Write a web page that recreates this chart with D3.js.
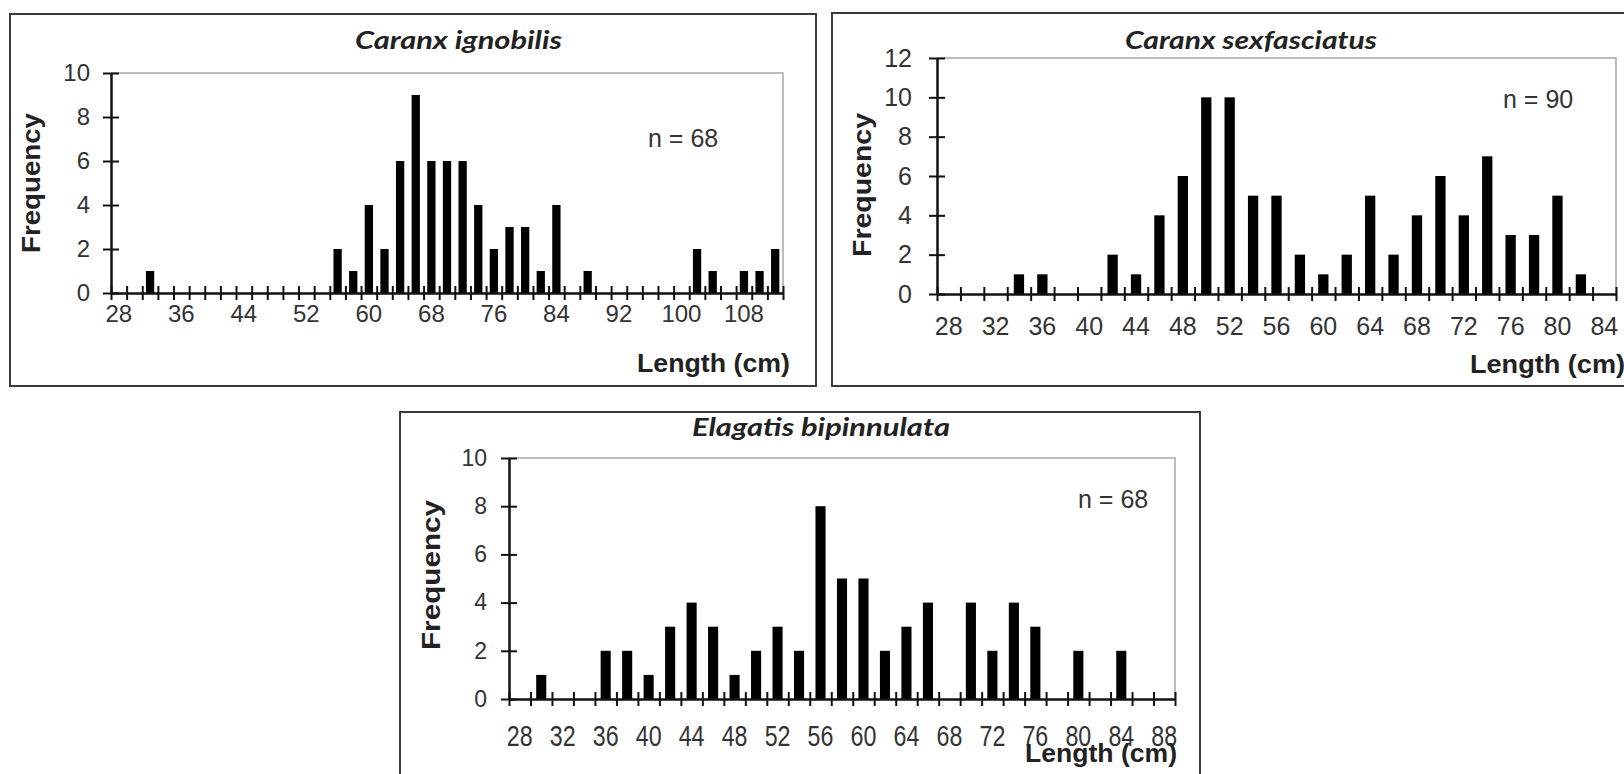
<!DOCTYPE html>
<html>
<head>
<meta charset="utf-8">
<script src="https://cdn.jsdelivr.net/npm/d3@7"></script>
<style>
  body { margin: 0; background: #fff; }
  svg { display: block; }
</style>
</head>
<body>
<div id="chart"></div>
<script>
// ---- data ----
// Caranx ignobilis
const ignobilisLengths = [28, 30, 32, 34, 36, 38, 40, 42, 44, 46, 48, 50, 52, 54, 56, 58, 60, 62, 64, 66, 68, 70,
  72, 74, 76, 78, 80, 82, 84, 86, 88, 90, 92, 94, 96, 98, 100, 102, 104, 106, 108, 110, 112];
const ignobilisCounts = [0, 0, 1, 0, 0, 0, 0, 0, 0, 0, 0, 0, 0, 0, 2, 1, 4, 2, 6, 9, 6, 6,
  6, 4, 2, 3, 3, 1, 4, 0, 1, 0, 0, 0, 0, 0, 0, 2, 1, 0, 1, 1, 2];
const ignobilisLabels = [28, 36, 44, 52, 60, 68, 76, 84, 92, 100, 108];
const ignobilisFreqTicks = [0, 2, 4, 6, 8, 10];

// Caranx sexfasciatus
const sexfasciatusLengths = [28, 30, 32, 34, 36, 38, 40, 42, 44, 46, 48, 50, 52, 54, 56, 58, 60, 62, 64, 66,
  68, 70, 72, 74, 76, 78, 80, 82, 84];
const sexfasciatusCounts = [0, 0, 0, 1, 1, 0, 0, 2, 1, 4, 6, 10, 10, 5, 5, 2, 1, 2, 5, 2,
  4, 6, 4, 7, 3, 3, 5, 1, 0];
const sexfasciatusLabels = [28, 32, 36, 40, 44, 48, 52, 56, 60, 64, 68, 72, 76, 80, 84];
const sexfasciatusFreqTicks = [0, 2, 4, 6, 8, 10, 12];

// Elagatis bipinnulata
const bipinnulataLengths = [28, 30, 32, 34, 36, 38, 40, 42, 44, 46, 48, 50, 52, 54, 56, 58, 60, 62, 64, 66,
  68, 70, 72, 74, 76, 78, 80, 82, 84, 86, 88];
const bipinnulataCounts = [0, 1, 0, 0, 2, 2, 1, 3, 4, 3, 1, 2, 3, 2, 8, 5, 5, 2, 3, 4,
  0, 4, 2, 4, 3, 0, 2, 0, 2, 0, 0];
const bipinnulataLabels = [28, 32, 36, 40, 44, 48, 52, 56, 60, 64, 68, 72, 76, 80, 84, 88];
const bipinnulataFreqTicks = [0, 2, 4, 6, 8, 10];

const sampleSizes = ["n = 68", "n = 90", "n = 68"];

// ---- layout ----
const svg = d3.select("#chart")
  .append("svg")
  .attr("width", 1624)
  .attr("height", 774)
  .attr("viewBox", "0 0 1624 774");

const panels = [
  {
    title: "Caranx ignobilis", lengths: ignobilisLengths, counts: ignobilisCounts,
    labels: ignobilisLabels, yTicks: ignobilisFreqTicks, n: sampleSizes[0],
    box: { x: 10, y: 14, w: 806, h: 372 },
    plot: { left: 111, top: 73, right: 783, bottom: 293 },
    pad: 0.47,
    titlePos: { x: 355, y: 49, size: 25, len: 207 },
    nPos: { x: 648, y: 147 },
    freqPos: { x: 40, y: 183, len: 140 },
    lenPos: { x: 637, y: 372, len: 153, size: 26 },
    xFont: { size: 24, pad: 12, squeeze: 1 },
    yFont: { size: 24, pad: 21 }
  },
  {
    title: "Caranx sexfasciatus", lengths: sexfasciatusLengths, counts: sexfasciatusCounts,
    labels: sexfasciatusLabels, yTicks: sexfasciatusFreqTicks, n: sampleSizes[1],
    box: { x: 832, y: 13, w: 820, h: 373 },
    plot: { left: 937, top: 58, right: 1616, bottom: 294 },
    pad: 0.56,
    titlePos: { x: 1125, y: 49, size: 25, len: 252 },
    nPos: { x: 1503, y: 108 },
    freqPos: { x: 871, y: 185, len: 144 },
    lenPos: { x: 1470, y: 373, len: 155, size: 26 },
    xFont: { size: 25, pad: 23, squeeze: 1 },
    yFont: { size: 25, pad: 25 }
  },
  {
    title: "Elagatis bipinnulata", lengths: bipinnulataLengths, counts: bipinnulataCounts,
    labels: bipinnulataLabels, yTicks: bipinnulataFreqTicks, n: sampleSizes[2],
    box: { x: 400, y: 412, w: 800, h: 420 },
    plot: { left: 509, top: 458, right: 1175, bottom: 699 },
    pad: 0.53,
    titlePos: { x: 692, y: 436, size: 24, len: 258 },
    nPos: { x: 1078, y: 508 },
    freqPos: { x: 440, y: 575, len: 150 },
    lenPos: { x: 1025, y: 762, len: 152, size: 25 },
    // these labels are set in a taller, condensed face
    xFont: { size: 29, pad: 26, squeeze: 0.8 },
    yFont: { size: 23, pad: 22 }
  }
];

const AXIS_COLOR = "#111";
const TEXT_COLOR = "#333";
const FRAME_COLOR = "#3a3a3a";
const SANS = "'Liberation Sans', Arial, sans-serif";

drawPanel = (p) => {
  const g = svg.append("g");
  const { left, top, right, bottom } = p.plot;

  // outer frame
  g.append("rect")
    .attr("x", p.box.x)
    .attr("y", p.box.y)
    .attr("width", p.box.w)
    .attr("height", p.box.h)
    .attr("fill", "none")
    .attr("stroke", FRAME_COLOR)
    .attr("stroke-width", 2);

  // plot area border (top and right only)
  g.append("path")
    .attr("d", `M${left},${top}H${right}V${bottom}`)
    .attr("fill", "none")
    .attr("stroke", "#a8a8a8")
    .attr("stroke-width", 1.5);

  // scales
  const x = d3.scaleBand()
    .domain(p.lengths)
    .range([left, right])
    .paddingInner(p.pad)
    .paddingOuter(p.pad / 2);

  const y = d3.scaleLinear()
    .domain([0, d3.max(p.yTicks)])
    .range([bottom, top]);

  // bars
  const rows = p.lengths.map((l, i) => ({ length: l, count: p.counts[i] }));
  g.selectAll(".bar")
    .data(rows.filter(d => d.count > 0))
    .join("rect")
    .attr("class", "bar")
    .attr("x", d => x(d.length))
    .attr("width", x.bandwidth())
    .attr("y", d => y(d.count))
    .attr("height", d => y(0) - y(d.count))
    .attr("fill", "#000");

  // x axis: ticks on category boundaries, crossing the line
  const xb = d3.scaleLinear()
    .domain([0, p.lengths.length])
    .range([left, right]);

  g.append("g")
    .attr("transform", `translate(0,${bottom})`)
    .attr("color", AXIS_COLOR)
    .call(d3.axisBottom(xb)
      .tickValues(d3.range(p.lengths.length + 1))
      .tickFormat("")
      .tickSizeOuter(0))
    .call(a => a.select(".domain").attr("stroke-width", 2.5))
    .call(a => a.selectAll(".tick line").attr("y1", -7).attr("y2", 7).attr("stroke-width", 2));

  // x tick labels, centred under categories
  g.append("g")
    .attr("transform", `translate(0,${bottom})`)
    .call(d3.axisBottom(x)
      .tickValues(p.labels)
      .tickSize(0)
      .tickPadding(p.xFont.pad))
    .call(a => a.select(".domain").remove())
    .call(a => a.selectAll("text")
      .attr("font-family", SANS)
      .attr("font-size", p.xFont.size)
      .attr("transform", `scale(${p.xFont.squeeze},1)`)
      .attr("fill", TEXT_COLOR));

  // y axis
  g.append("g")
    .attr("transform", `translate(${left},0)`)
    .attr("color", AXIS_COLOR)
    .call(d3.axisLeft(y)
      .tickValues(p.yTicks)
      .tickSize(0)
      .tickSizeOuter(0)
      .tickPadding(p.yFont.pad))
    .call(a => a.select(".domain").attr("stroke-width", 2.5))
    .call(a => a.selectAll(".tick line").attr("x1", -8).attr("x2", 8).attr("stroke-width", 2))
    .call(a => a.selectAll("text")
      .attr("font-family", SANS)
      .attr("font-size", p.yFont.size)
      .attr("fill", TEXT_COLOR));

  // species title
  g.append("text")
    .attr("x", p.titlePos.x)
    .attr("y", p.titlePos.y)
    .attr("textLength", p.titlePos.len)
    .attr("lengthAdjust", "spacingAndGlyphs")
    .style("font-family", "Lato, 'Open Sans', sans-serif")
    .style("font-style", "italic")
    .style("font-weight", 700)
    .style("font-size", p.titlePos.size + "px")
    .attr("fill", "#222")
    .text(p.title);

  // sample size
  g.append("text")
    .attr("x", p.nPos.x)
    .attr("y", p.nPos.y)
    .style("font-family", SANS)
    .style("font-size", "25px")
    .attr("fill", TEXT_COLOR)
    .text(p.n);

  // y axis title
  g.append("text")
    .attr("transform", `translate(${p.freqPos.x},${p.freqPos.y}) rotate(-90)`)
    .attr("text-anchor", "middle")
    .attr("textLength", p.freqPos.len)
    .attr("lengthAdjust", "spacingAndGlyphs")
    .style("font-family", SANS)
    .style("font-weight", 700)
    .style("font-size", "25px")
    .attr("fill", "#222")
    .text("Frequency");

  // x axis title
  g.append("text")
    .attr("x", p.lenPos.x)
    .attr("y", p.lenPos.y)
    .attr("textLength", p.lenPos.len)
    .attr("lengthAdjust", "spacingAndGlyphs")
    .style("font-family", SANS)
    .style("font-weight", 700)
    .style("font-size", p.lenPos.size + "px")
    .attr("fill", "#222")
    .text("Length (cm)");
}

panels.forEach(drawPanel);
</script>
</body>
</html>
